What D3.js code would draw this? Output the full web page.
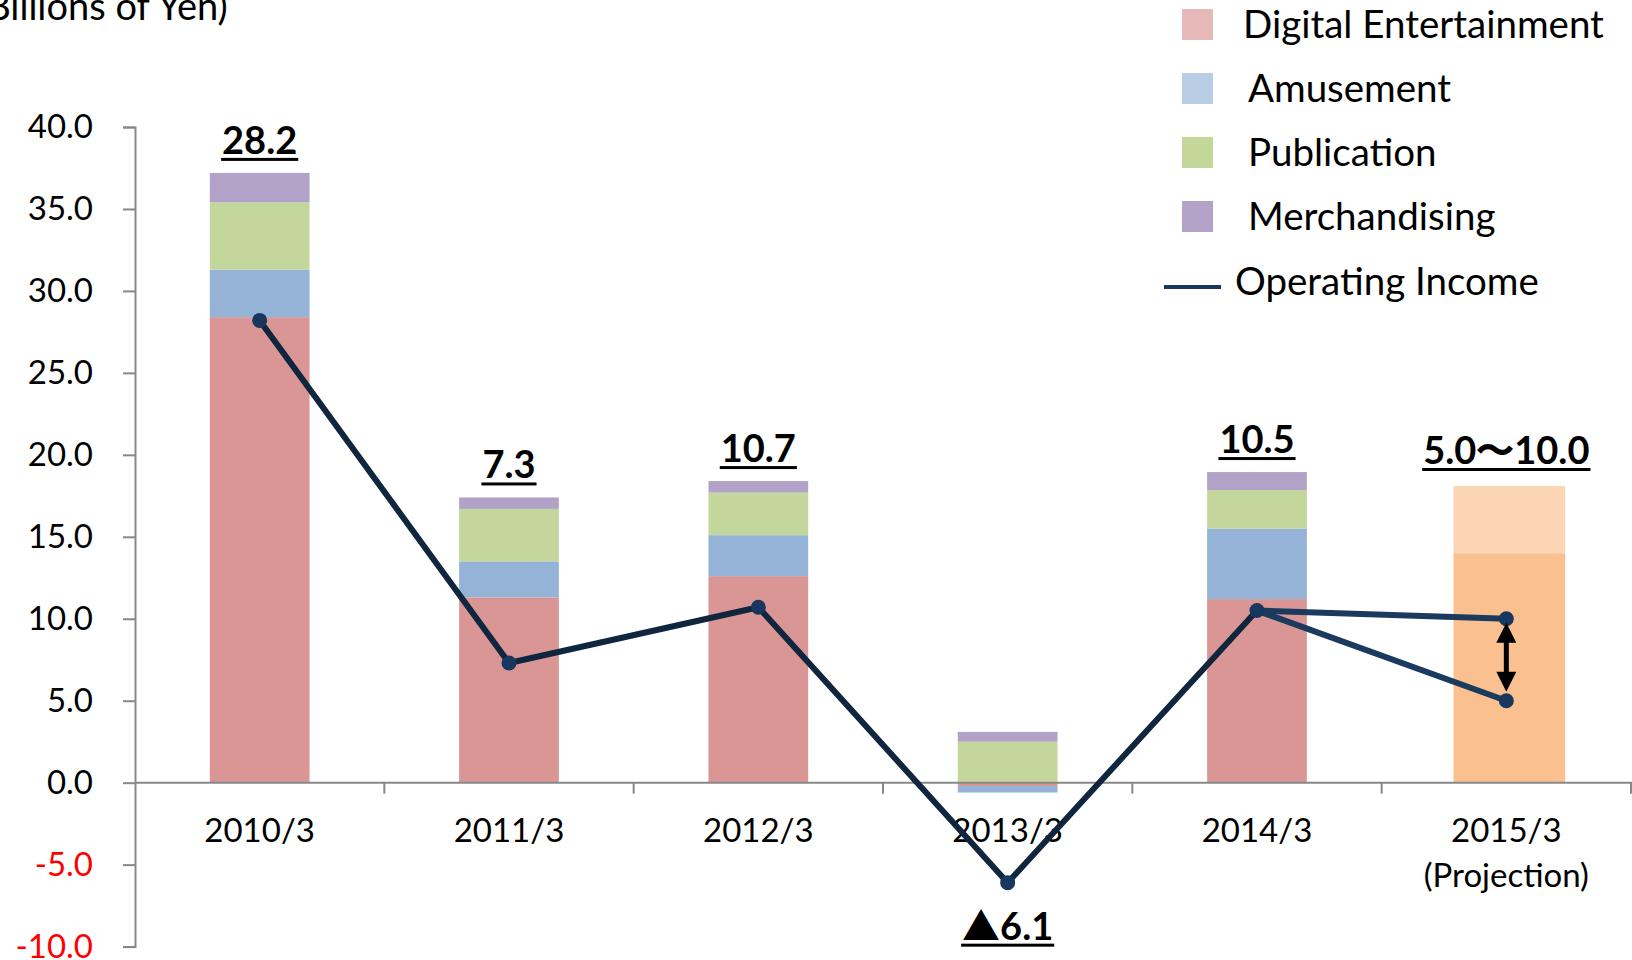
<!DOCTYPE html>
<html>
<head>
<meta charset="utf-8">
<script src="https://cdn.jsdelivr.net/npm/d3@7"></script>
<style>
    body { margin: 0; background: #fff; }
    svg { display: block; font-family: Lato, "Noto Sans", sans-serif; }
</style>
</head>
<body>
<div id="chart"></div>
<script>
const categories = ["2010/3", "2011/3", "2012/3", "2013/3", "2014/3", "2015/3"]
const categoryNotes = ["", "", "", "", "", "(Projection)"]
const digitalEntertainment = [28.4, 11.3, 12.6, -0.2, 11.2, 0]
const amusement = [2.9, 2.2, 2.5, -0.4, 4.3, 0]
const publication = [4.1, 3.2, 2.6, 2.5, 2.35, 0]
const merchandising = [1.8, 0.7, 0.7, 0.6, 1.1, 0]
const projectionBase = 14.0
const projectionUpper = 18.1
const operatingIncome = [28.2, 7.3, 10.7, -6.1, 10.5]
const projectedIncome = [10.0, 5.0]
const valueLabels = ["28.2", "7.3", "10.7", "▲6.1", "10.5", "5.0〜10.0"]
const yTicks = [-10, -5, 0, 5, 10, 15, 20, 25, 30, 35, 40]
const seriesNames = ["Digital Entertainment", "Amusement", "Publication", "Merchandising"]

;(function () {
    const width = 1632, height = 960
    const colors = ["#D99694", "#95B3D7", "#C3D69B", "#B3A2C7"]
    const legendColors = ["#E6B9B8", "#B9CDE5", "#C4D79B", "#B3A2C7"]
    const navy = "#10263F"

    const svg = d3.select("#chart").append("svg")
        .attr("width", width)
        .attr("height", height)

    const x = d3.scaleBand()
        .domain(categories)
        .range([135, 1631])
        .paddingInner(0.6)
        .paddingOuter(0.3)
    const band = d3.scaleBand().domain(categories).range([135, 1631])
    const cx = c => band(c) + band.bandwidth() / 2

    const y = d3.scaleLinear()
        .domain([-10, 40])
        .range([946.6, 127])

    // title, partly cut off at the left edge like the original
    svg.append("text")
        .attr("x", -24)
        .attr("y", 20)
        .attr("font-size", 38)
        .attr("fill", "#000")
        .text("(Billions of Yen)")

    // stacked bars
    const rows = categories.map((c, i) => ({
        cat: c,
        "Digital Entertainment": digitalEntertainment[i],
        "Amusement": amusement[i],
        "Publication": publication[i],
        "Merchandising": merchandising[i]
    }))
    const stack = d3.stack().keys(seriesNames).offset(d3.stackOffsetDiverging)
    const stacked = stack(rows.slice(0, 5))

    svg.append("g").selectAll("g")
        .data(stacked)
        .join("g")
        .attr("fill", (d, i) => colors[i])
        .selectAll("rect")
        .data(d => d)
        .join("rect")
        .attr("x", d => x(d.data.cat))
        .attr("width", x.bandwidth())
        .attr("y", d => y(Math.max(d[0], d[1])))
        .attr("height", d => Math.abs(y(d[0]) - y(d[1])))

    // projection bar
    const projCat = categories[5]
    const projW = x.bandwidth() * 1.12
    const projX = cx(projCat) - projW / 2 + 3
    svg.append("rect")
        .attr("x", projX)
        .attr("width", projW)
        .attr("y", y(projectionBase))
        .attr("height", y(0) - y(projectionBase))
        .attr("fill", "#FAC090")
    svg.append("rect")
        .attr("x", projX)
        .attr("width", projW)
        .attr("y", y(projectionUpper))
        .attr("height", y(projectionBase) - y(projectionUpper))
        .attr("fill", "#FCD5B5")

    // axes
    const yAxis = svg.append("g")
        .attr("transform", "translate(135,0)")
        .call(d3.axisLeft(y).tickValues(yTicks).tickSize(12).tickPadding(30).tickFormat(d => d.toFixed(1)))
    yAxis.select(".domain").attr("stroke", "#888").attr("stroke-width", 2)
    yAxis.selectAll(".tick line").attr("stroke", "#888").attr("stroke-width", 2)
    yAxis.selectAll(".tick text")
        .attr("font-size", 33)
        .attr("font-family", "Lato, sans-serif")
        .attr("fill", d => d < 0 ? "#FF0000" : "#000")

    const xAxis = svg.append("g").attr("transform", `translate(0,${y(0)})`)
    xAxis.append("line")
        .attr("x1", 135).attr("x2", 1632)
        .attr("stroke", "#888").attr("stroke-width", 2)
    xAxis.selectAll(".sep")
        .data(categories)
        .join("line")
        .attr("class", "sep")
        .attr("x1", d => band(d) + band.bandwidth())
        .attr("x2", d => band(d) + band.bandwidth())
        .attr("y1", 0).attr("y2", 11)
        .attr("stroke", "#888").attr("stroke-width", 2)
    xAxis.selectAll(".cat")
        .data(categories)
        .join("text")
        .attr("class", "cat")
        .attr("x", cx)
        .attr("y", 59)
        .attr("text-anchor", "middle")
        .attr("font-size", 33)
        .text(d => d)
    xAxis.selectAll(".note")
        .data(categoryNotes)
        .join("text")
        .attr("class", "note")
        .attr("x", (d, i) => cx(categories[i]))
        .attr("y", 104)
        .attr("text-anchor", "middle")
        .attr("font-size", 33)
        .text(d => d)

    // operating income line
    const pts = operatingIncome.map((v, i) => [cx(categories[i]), y(v)])
    const line = d3.line()
    const last = pts[pts.length - 1]
    svg.append("path")
        .attr("d", line(pts))
        .attr("fill", "none")
        .attr("stroke", navy)
        .attr("stroke-width", 6)
        .attr("stroke-linejoin", "round")
    projectedIncome.forEach(v => {
        svg.append("path")
            .attr("d", line([last, [cx(projCat), y(v)]]))
            .attr("fill", "none")
            .attr("stroke", "#1A3A5E")
            .attr("stroke-width", 6)
    })
    svg.selectAll(".dot")
        .data(pts.concat(projectedIncome.map(v => [cx(projCat), y(v)])))
        .join("circle")
        .attr("class", "dot")
        .attr("cx", d => d[0])
        .attr("cy", d => d[1])
        .attr("r", 7.5)
        .attr("fill", "#17375E")

    // double arrow between projected values
    const ax = cx(projCat)
    const aTop = y(projectedIncome[0]) + 4
    const aBot = y(projectedIncome[1]) - 9
    svg.append("line")
        .attr("x1", ax).attr("x2", ax)
        .attr("y1", aTop + 16).attr("y2", aBot - 16)
        .attr("stroke", "#000").attr("stroke-width", 5)
    svg.append("path")
        .attr("d", `M${ax},${aTop} L${ax - 10},${aTop + 20} L${ax + 10},${aTop + 20} Z`)
        .attr("fill", "#000")
    svg.append("path")
        .attr("d", `M${ax},${aBot} L${ax - 10},${aBot - 20} L${ax + 10},${aBot - 20} Z`)
        .attr("fill", "#000")

    // value labels, bold and underlined
    const labelY = categories.map((c, i) => {
        if (i === 5) return y(projectionUpper) - 22
        if (operatingIncome[i] < 0) return y(operatingIncome[i]) + 57
        const top = stacked[stacked.length - 1][i][1]
        return y(top) - 19
    })
    const labels = svg.append("g").selectAll("g")
        .data(valueLabels)
        .join("g")
    labels.append("text")
        .attr("x", (d, i) => cx(categories[i]))
        .attr("y", (d, i) => labelY[i])
        .attr("text-anchor", "middle")
        .attr("font-size", 38)
        .attr("font-weight", "bold")
        .each(function (d) {
            const t = d3.select(this)
            if (d.startsWith("▲")) {
                t.append("tspan").attr("font-family", "'Noto Sans CJK JP'").attr("font-weight", "normal").text("▲")
                t.append("tspan").text(d.slice(1))
            } else {
                t.text(d)
            }
        })
    labels.each(function () {
        const t = d3.select(this).select("text")
        const b = t.node().getBBox()
        d3.select(this).append("rect")
            .attr("x", b.x - 1)
            .attr("width", b.width + 2)
            .attr("y", +t.attr("y") + 4)
            .attr("height", 3)
            .attr("fill", "#000")
    })

    // legend
    const legend = svg.append("g")
    seriesNames.forEach((name, i) => {
        legend.append("rect")
            .attr("x", 1182).attr("y", 9 + i * 64)
            .attr("width", 31).attr("height", 31)
            .attr("fill", legendColors[i])
        legend.append("text")
            .attr("x", i === 0 ? 1243 : 1248)
            .attr("y", 25 + i * 64)
            .attr("dy", "0.35em")
            .attr("font-size", 38.5)
            .text(name)
    })
    legend.append("line")
        .attr("x1", 1164).attr("x2", 1221)
        .attr("y1", 287).attr("y2", 287)
        .attr("stroke", "#17375E").attr("stroke-width", 4)
    legend.append("text")
        .attr("x", 1235).attr("y", 282)
        .attr("dy", "0.35em")
        .attr("font-size", 38.5)
        .text("Operating Income")
})()
</script>
</body>
</html>
